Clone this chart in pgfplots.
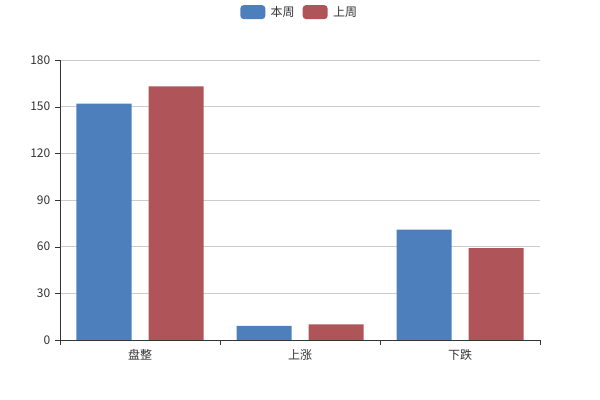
\documentclass[border=0pt]{standalone}
\usepackage{pgfplots}
\pgfplotsset{compat=1.18}
\usepackage{fontspec}
\setmainfont{Noto Sans CJK SC}
\definecolor{cblue}{HTML}{4D7FBC}
\definecolor{cred}{HTML}{AF5559}
\definecolor{txt}{HTML}{333333}
\definecolor{gridc}{HTML}{CCCCCC}
\begin{document}
\begin{tikzpicture}
\useasboundingbox (-45pt,-45pt) rectangle (405pt,255pt);
\begin{axis}[
  at={(0pt,0pt)}, anchor=south west,
  scale only axis, width=360pt, height=210pt,
  ybar, bar width=41.25pt,
  xmin=-0.5, xmax=2.5, ymin=0, ymax=180,
  axis x line=bottom, axis y line=left,
  axis line style={-, draw=txt},
  xtick={-0.5,0.5,1.5,2.5}, x tick label as interval,
  xticklabels={盘整,上涨,下跌},
  ytick={0,30,...,180},
  tick style={draw=txt}, major tick length=3.75pt, tick align=outside,
  ymajorgrids, grid style={draw=gridc, line width=0.6pt},
  tick label style={font=\fontsize{9}{10}\selectfont, text=txt},
  /pgf/number format/assume math mode=true,
  legend style={at={(axis description cs:0.5,1.171)}, anchor=center, draw=none, fill=none,
    font=\fontsize{9}{10}\selectfont, text=txt, legend columns=2,
    /tikz/every odd column/.append style={column sep=2pt},
    /tikz/every even column/.append style={column sep=4pt}},
  legend image code/.code={\fill[#1, rounded corners=2.5pt] (0pt,-5.25pt) rectangle (18.75pt,5.25pt);},
]
\addplot[fill=cblue, draw=none, bar shift=-27pt] coordinates {(0,152) (1,9) (2,71)};
\addplot[fill=cred, draw=none, bar shift=27pt] coordinates {(0,163) (1,10) (2,59)};
\legend{本周,上周}
\end{axis}
\end{tikzpicture}
\end{document}
